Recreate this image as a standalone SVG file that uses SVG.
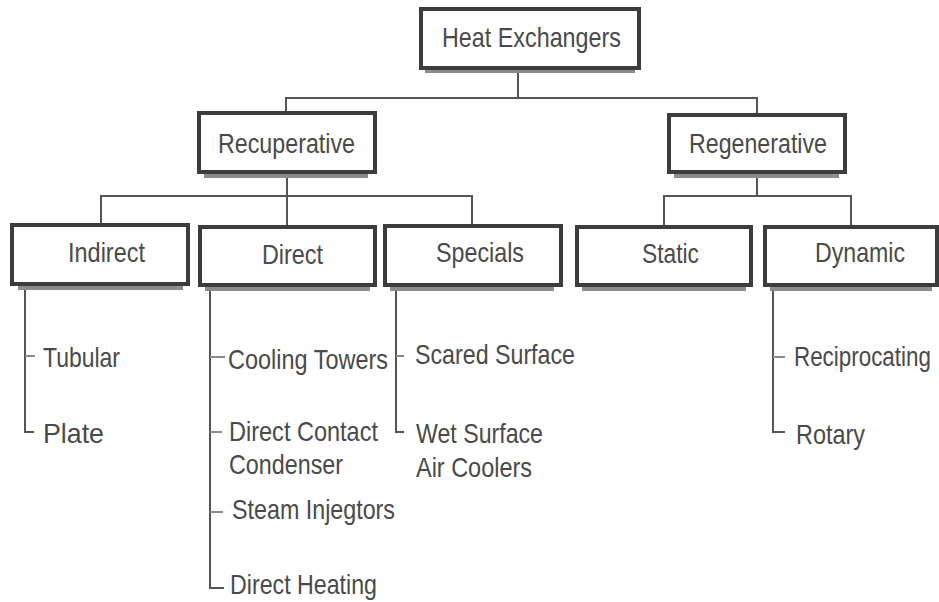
<svg xmlns="http://www.w3.org/2000/svg" width="939" height="602" viewBox="0 0 939 602">
<style>
.box{fill:#ffffff;stroke:#3c3c3c;stroke-width:4}
.sh{fill:#8c8c8c}
.lbl{font-family:"Liberation Sans",Arial,sans-serif;font-size:28px;fill:#4a4a4a}
.item{font-family:"Liberation Sans",Arial,sans-serif;font-size:28px;fill:#4a4a4a}
.con{fill:none;stroke:#555555;stroke-width:2}
.tick{fill:none;stroke:#8a8a8a;stroke-width:2}
</style>
<rect width="939" height="602" fill="#ffffff"/>
<g id="connectors">
<path class="con" d="M518 70V98M286 111V98H757V113"/>
<path class="con" d="M287 174V196M101 223V196H472V224M287 196V225"/>
<path class="con" d="M757 174V196M664 225V196H851V225"/>
<path class="con" d="M25 288V432H34"/>
<path class="tick" d="M25 356H35"/>
<path class="con" d="M210 289V588H224"/>
<path class="tick" d="M210 357H225M210 432H222M210 512H223"/>
<path class="con" d="M396 289V432H404"/>
<path class="tick" d="M396 356H404"/>
<path class="con" d="M773 289V432H785"/>
<path class="tick" d="M773 357H785"/>
</g>
<g id="heat-exchangers">
<rect class="sh" x="425" y="69" width="210" height="4"/>
<rect class="box" x="421" y="9" width="218" height="59"/>
<text class="lbl" x="442" y="47" textLength="179" lengthAdjust="spacingAndGlyphs">Heat Exchangers</text>
</g>
<g id="recuperative">
<rect class="sh" x="204" y="173" width="164" height="5"/>
<rect class="box" x="199" y="113" width="176" height="59"/>
<text class="lbl" x="218" y="153" textLength="137" lengthAdjust="spacingAndGlyphs">Recuperative</text>
</g>
<g id="regenerative">
<rect class="sh" x="674" y="173" width="165" height="5"/>
<rect class="box" x="669" y="115" width="176" height="57"/>
<text class="lbl" x="689" y="153" textLength="138" lengthAdjust="spacingAndGlyphs">Regenerative</text>
</g>
<g id="indirect">
<rect class="sh" x="18" y="285" width="165" height="5"/>
<rect class="box" x="12" y="225" width="176" height="59"/>
<text class="lbl" x="68" y="262" textLength="77" lengthAdjust="spacingAndGlyphs">Indirect</text>
</g>
<g id="direct">
<rect class="sh" x="205" y="286" width="165" height="5"/>
<rect class="box" x="200" y="227" width="175" height="58"/>
<text class="lbl" x="262" y="264" textLength="61" lengthAdjust="spacingAndGlyphs">Direct</text>
</g>
<g id="specials">
<rect class="sh" x="390" y="286" width="164" height="5"/>
<rect class="box" x="385" y="226" width="176" height="59"/>
<text class="lbl" x="436" y="262" textLength="88" lengthAdjust="spacingAndGlyphs">Specials</text>
</g>
<g id="static">
<rect class="sh" x="582" y="286" width="164" height="5"/>
<rect class="box" x="577" y="227" width="174" height="58"/>
<text class="lbl" x="642" y="263" textLength="57" lengthAdjust="spacingAndGlyphs">Static</text>
</g>
<g id="dynamic">
<rect class="sh" x="770" y="286" width="162" height="5"/>
<rect class="box" x="765" y="227" width="172" height="58"/>
<text class="lbl" x="815" y="262" textLength="90" lengthAdjust="spacingAndGlyphs">Dynamic</text>
</g>
<g id="items">
<text class="item" x="43" y="367" textLength="77" lengthAdjust="spacingAndGlyphs">Tubular</text>
<text class="item" x="43" y="443" textLength="61" lengthAdjust="spacingAndGlyphs">Plate</text>
<text class="item" x="228" y="369" textLength="160" lengthAdjust="spacingAndGlyphs">Cooling Towers</text>
<text class="item" x="229" y="441" textLength="149" lengthAdjust="spacingAndGlyphs">Direct Contact</text>
<text class="item" x="229" y="474" textLength="114" lengthAdjust="spacingAndGlyphs">Condenser</text>
<text class="item" x="232" y="519" textLength="163" lengthAdjust="spacingAndGlyphs">Steam Injegtors</text>
<text class="item" x="230" y="594" textLength="147" lengthAdjust="spacingAndGlyphs">Direct Heating</text>
<text class="item" x="415" y="364" textLength="160" lengthAdjust="spacingAndGlyphs">Scared Surface</text>
<text class="item" x="416" y="443" textLength="127" lengthAdjust="spacingAndGlyphs">Wet Surface</text>
<text class="item" x="416" y="477" textLength="116" lengthAdjust="spacingAndGlyphs">Air Coolers</text>
<text class="item" transform="translate(794 366) scale(0.8 1)">Reciprocating</text>
<text class="item" x="796" y="444" textLength="69" lengthAdjust="spacingAndGlyphs">Rotary</text>
</g>
</svg>
